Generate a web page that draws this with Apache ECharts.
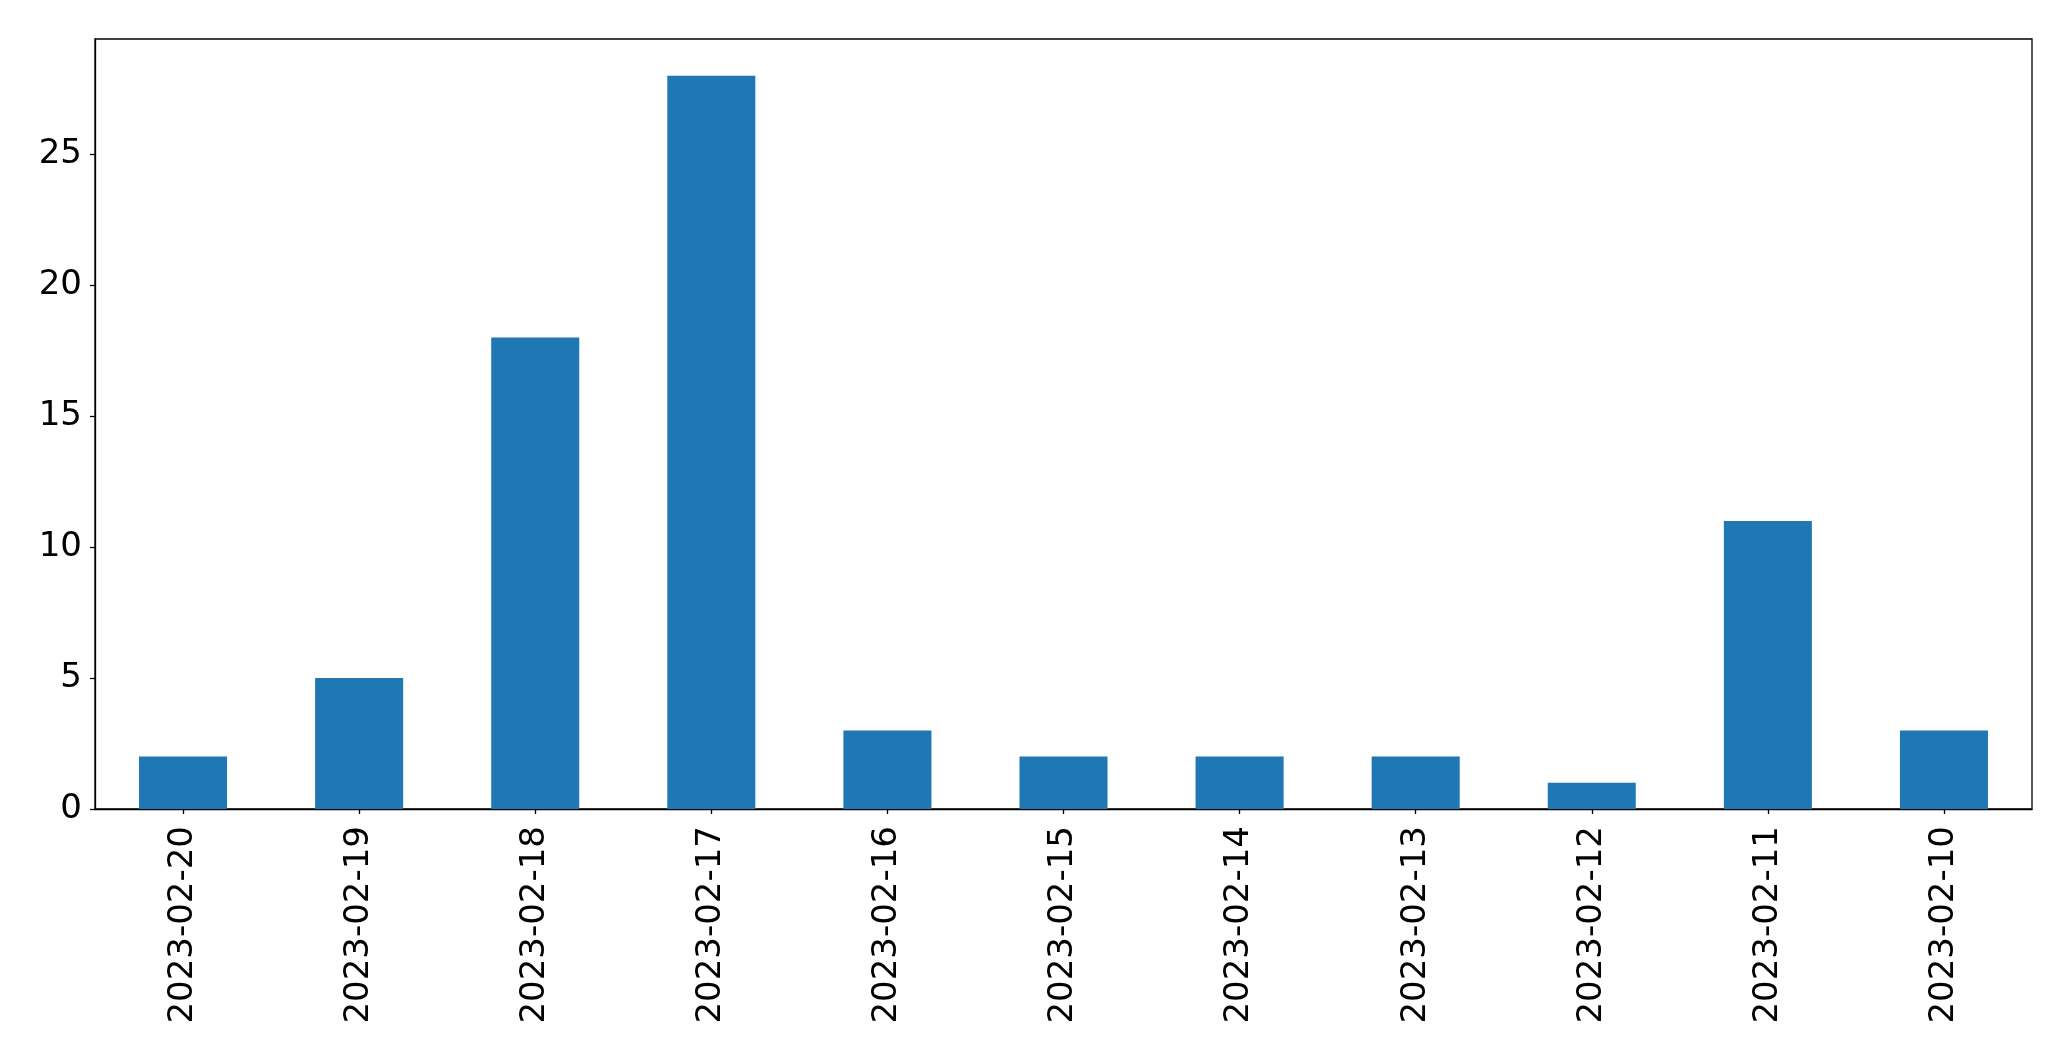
<!DOCTYPE html>
<html>
<head>
<meta charset="utf-8">
<script src="https://cdn.jsdelivr.net/npm/echarts@6/dist/echarts.min.js"></script>
<style>
html,body{margin:0;padding:0;background:#fff;}
#c{width:2071px;height:1061px;}
</style>
</head>
<body>
<div id="c"></div>
<script>
const categories = ["2023-02-20","2023-02-19","2023-02-18","2023-02-17","2023-02-16","2023-02-15","2023-02-14","2023-02-13","2023-02-12","2023-02-11","2023-02-10"];
const counts = [2,5,18,28,3,2,2,2,1,11,3];
const yTicks = [0,5,10,15,20,25];

const chart = echarts.init(document.getElementById('c'), null, {renderer:'canvas'});
const font = '"DejaVu Sans", sans-serif';
chart.setOption({
  animation:false,
  backgroundColor:'#fff',
  grid:{left:95, right:39, top:39, bottom:252, show:true, borderColor:'#000', borderWidth:1.3, backgroundColor:'transparent'},
  xAxis:{
    type:'category',
    data:categories,
    boundaryGap:true,
    axisLine:{show:true, lineStyle:{color:'#000', width:1.3}},
    axisTick:{show:true, alignWithLabel:true, length:5, lineStyle:{color:'#000', width:1.3}},
    axisLabel:{rotate:90, fontSize:34, color:'#000', fontFamily:font, margin:17, interval:0},
    splitLine:{show:false}
  },
  yAxis:{
    type:'value',
    min:0, max:29.4,
    axisLine:{show:true, lineStyle:{color:'#000', width:1.3}},
    axisTick:{show:true, length:5, lineStyle:{color:'#000', width:1.3}, customValues:yTicks},
    axisLabel:{fontSize:34, color:'#000', fontFamily:font, margin:13, customValues:yTicks},
    splitLine:{show:false}
  },
  series:[{
    type:'bar',
    data:counts,
    barWidth:'50%',
    itemStyle:{color:'#1f77b4'}
  }]
});
</script>
</body>
</html>
